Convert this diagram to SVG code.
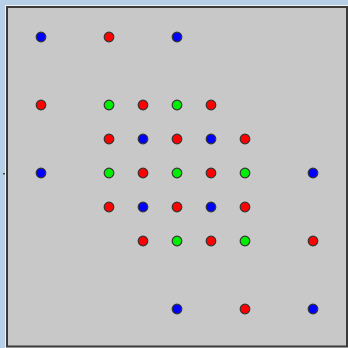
<svg xmlns="http://www.w3.org/2000/svg" width="348" height="348" viewBox="0 0 348 348">
<style>
.d{stroke:#333;stroke-width:1.2}
.b{fill:#0000ff}.r{fill:#ff0000}.g{fill:#00ee00}
</style>
<defs><circle id="c" r="4.8"/></defs>
<rect width="348" height="348" fill="#b8cfe8"/>
<rect x="5" y="5" width="343" height="343" fill="#f4f4f4"/>
<rect x="7" y="7" width="340" height="339.5" fill="#c8c8c8" stroke="#3a3a3a" stroke-width="2"/>
<rect x="3" y="173" width="2" height="1.5" fill="#444"/>
<g id="dots" class="d">
<use href="#c" class="b" x="41" y="37"/><use href="#c" class="r" x="109" y="37"/><use href="#c" class="b" x="177" y="37"/>
<use href="#c" class="r" x="41" y="105"/><use href="#c" class="g" x="109" y="105"/><use href="#c" class="r" x="143" y="105"/><use href="#c" class="g" x="177" y="105"/><use href="#c" class="r" x="211" y="105"/>
<use href="#c" class="r" x="109" y="139"/><use href="#c" class="b" x="143" y="139"/><use href="#c" class="r" x="177" y="139"/><use href="#c" class="b" x="211" y="139"/><use href="#c" class="r" x="245" y="139"/>
<use href="#c" class="b" x="41" y="173"/><use href="#c" class="g" x="109" y="173"/><use href="#c" class="r" x="143" y="173"/><use href="#c" class="g" x="177" y="173"/><use href="#c" class="r" x="211" y="173"/><use href="#c" class="g" x="245" y="173"/><use href="#c" class="b" x="313" y="173"/>
<use href="#c" class="r" x="109" y="207"/><use href="#c" class="b" x="143" y="207"/><use href="#c" class="r" x="177" y="207"/><use href="#c" class="b" x="211" y="207"/><use href="#c" class="r" x="245" y="207"/>
<use href="#c" class="r" x="143" y="241"/><use href="#c" class="g" x="177" y="241"/><use href="#c" class="r" x="211" y="241"/><use href="#c" class="g" x="245" y="241"/><use href="#c" class="r" x="313" y="241"/>
<use href="#c" class="b" x="177" y="309"/><use href="#c" class="r" x="245" y="309"/><use href="#c" class="b" x="313" y="309"/>
</g>
</svg>
